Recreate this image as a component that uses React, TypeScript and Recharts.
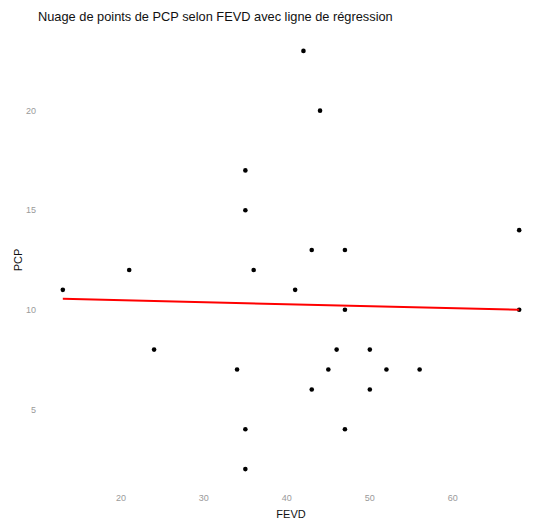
import React from 'react';
import { ScatterChart, Scatter, XAxis, YAxis } from 'recharts';

const fevd = [13, 21, 24, 34, 35, 35, 35, 35, 36, 41, 42, 44, 43, 47, 47, 46, 50, 45, 52, 56, 43, 50, 47, 68, 68];
const pcp = [11, 12, 8, 7, 17, 15, 4, 2, 12, 11, 23, 20, 13, 13, 10, 8, 8, 7, 7, 7, 6, 6, 4, 14, 10];

// regression line end points
const regX = [13, 68];
const regY = [10.55, 10.0];

const xTicks = [20, 30, 40, 50, 60];
const yTicks = [5, 10, 15, 20];

const points = fevd.map((x, i) => ({ x, y: pcp[i] }));
const regression = regX.map((x, i) => ({ x, y: regY[i] }));

const font = 'Liberation Sans, Arial, sans-serif';
const tickStyle = { fontSize: 9, fill: '#9a9a9a', fontFamily: font };

const Dot = (props: any) => <circle cx={props.cx} cy={props.cy} r={2.3} fill="#000" />;
const NoDot = () => <g />;

const App: React.FC = () => {
  return (
    <div style={{ position: 'absolute', left: 0, top: 0, width: 557, height: 521, background: '#fff' }}>
      <div
        style={{
          position: 'absolute',
          left: 38,
          top: 9,
          fontSize: 12.8,
          fontFamily: font,
          color: '#111',
          whiteSpace: 'nowrap',
        }}
      >
        Nuage de points de PCP selon FEVD avec ligne de régression
      </div>
      <ScatterChart width={557} height={521} margin={{ top: 30, right: 15, left: 10, bottom: 0 }}>
        <XAxis
          type="number"
          dataKey="x"
          domain={[10.25, 70.75]}
          ticks={xTicks}
          allowDataOverflow
          axisLine={false}
          tickLine={false}
          tickSize={0}
          tickMargin={5}
          height={31}
          tick={tickStyle}
          label={{ value: 'FEVD', position: 'insideBottom', offset: 3, fontSize: 11, fill: '#111', fontFamily: font }}
        />
        <YAxis
          type="number"
          dataKey="y"
          domain={[0.95, 24.05]}
          ticks={yTicks}
          allowDataOverflow
          axisLine={false}
          tickLine={false}
          tickSize={0}
          tickMargin={4}
          width={30}
          tick={tickStyle}
          label={{ value: 'PCP', angle: -90, position: 'insideLeft', offset: 8, textAnchor: 'middle', fontSize: 11, fill: '#111', fontFamily: font }}
        />
        <Scatter data={points} shape={Dot} isAnimationActive={false} />
        <Scatter
          data={regression}
          shape={NoDot}
          line={{ stroke: '#ff0000', strokeWidth: 2 }}
          isAnimationActive={false}
        />
      </ScatterChart>
    </div>
  );
};

export default App;
